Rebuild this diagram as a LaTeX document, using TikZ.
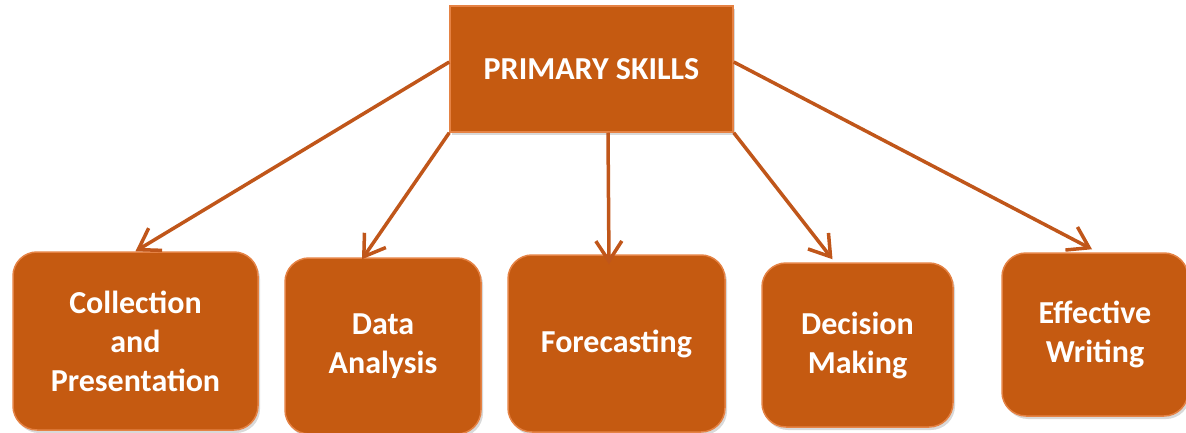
\documentclass[tikz,border=0pt]{standalone}
\usepackage{fontspec}
\setmainfont{Carlito}
\usetikzlibrary{arrows.meta}
\usetikzlibrary{shadows}

\definecolor{skillorange}{HTML}{C55A11}
\definecolor{skillrim}{HTML}{E58244}
\definecolor{skillarrow}{HTML}{C0561A}

\begin{document}
\begin{tikzpicture}[x=1pt,y=-1pt,
    every node/.style={font=\fontsize{32}{39}\selectfont\bfseries,text=white,align=center,inner sep=0pt},
    topbox/.style={fill=skillorange,draw=skillrim,line width=1.5pt,drop shadow={opacity=0.3,shadow xshift=2pt,shadow yshift=-3pt}},
    skillbox/.style={topbox,rounded corners=24pt},
    link/.style={-{Straight Barb[length=20pt,width=26pt]},draw=skillarrow,line width=3.5pt}]
          \useasboundingbox (0,0) rectangle (1186,433);
          \node[topbox,minimum width=283pt,minimum height=126pt] (primary) at (591.5,69) {PRIMARY SKILLS};
          \node[skillbox,minimum width=245pt,minimum height=178pt] (coll) at (135.5,341) {Collection\\and\\Presentation};
          \node[skillbox,minimum width=196pt,minimum height=176pt] (data) at (383,346) {Data\\Analysis};
          \node[skillbox,minimum width=217pt,minimum height=177pt] (fore) at (616.5,343.5) {Forecasting};
          \node[skillbox,minimum width=191pt,minimum height=164pt] (deci) at (857.5,345) {Decision\\Making};
          \node[skillbox,minimum width=186pt,minimum height=163pt] (effe) at (1095,334.5) {Effective\\Writing};
          \draw[link] ([yshift=7pt]primary.west) -- (coll.north);
          \draw[link] (primary.south west) -- ([xshift=-21pt,yshift=-2pt]data.north);
          \draw[link] ([xshift=16.5pt]primary.south) -- ([xshift=-7.5pt,yshift=-10pt]fore.north);
          \draw[link] (primary.south east) -- ([xshift=-25pt,yshift=3pt]deci.north);
          \draw[link] ([yshift=7pt]primary.east) -- ([xshift=-3pt,yshift=3pt]effe.north);
        \end{tikzpicture}
\end{document}
